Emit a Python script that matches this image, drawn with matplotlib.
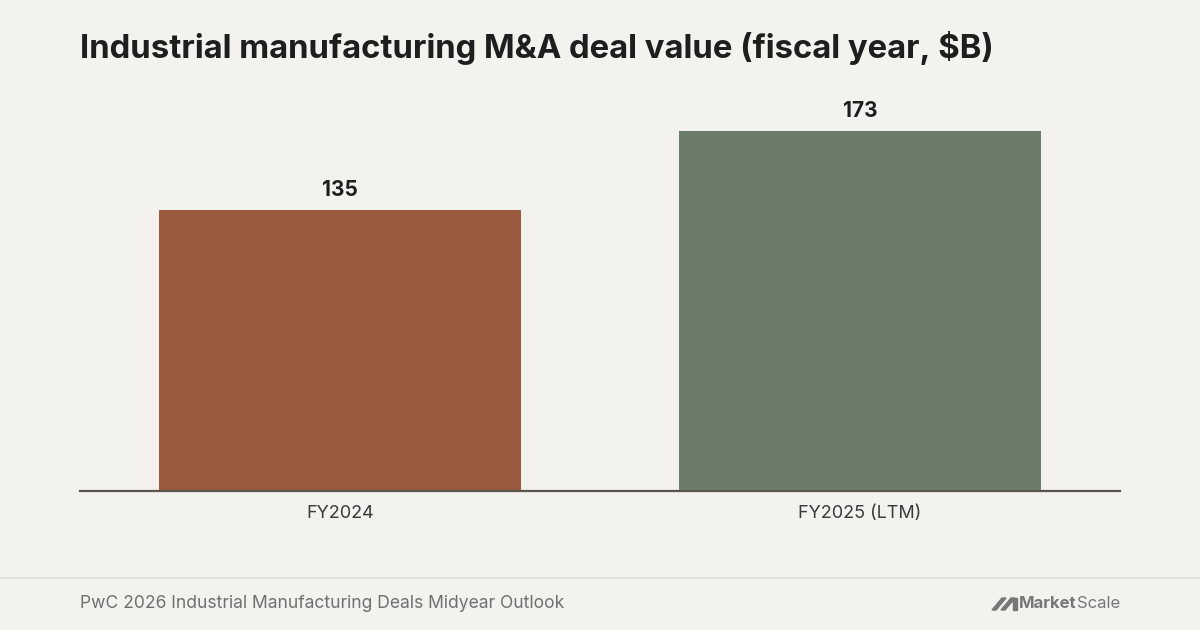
import matplotlib
matplotlib.use("Agg")
import matplotlib.pyplot as plt
from matplotlib.patches import Polygon
from matplotlib.lines import Line2D

categories = ["FY2024", "FY2025 (LTM)"]
values = [135, 173]
colors = ["#9a5a3e", "#6b7c6a"]
title = "Industrial manufacturing M&A deal value (fiscal year, $B)"
source = "PwC 2026 Industrial Manufacturing Deals Midyear Outlook"

BG = "#f4f2ee"
W, H = 1200, 630
fig = plt.figure(figsize=(12, 6.3), dpi=100, facecolor=BG)
plt.rcParams['font.family'] = ['Inter', 'DejaVu Sans']

ax = fig.add_axes([80 / W, (H - 491) / H, 1040 / W, (491 - 100) / H])
ax.set_facecolor(BG)
x = list(range(len(categories)))
ax.bar(x, values, width=0.698, color=colors, zorder=2)
ax.set_xlim(-0.5, len(categories) - 0.5)
ax.set_ylim(0, 391 / 2.08)
for xi, v in zip(x, values):
    ax.annotate(f"{v}", (xi, v), xytext=(0, 7), textcoords="offset points",
                ha="center", va="bottom", fontsize=15, fontweight="bold",
                color="#1e1e1e")
for s in ["top", "right", "left"]:
    ax.spines[s].set_visible(False)
ax.spines["bottom"].set_color("#5a554e")
ax.spines["bottom"].set_linewidth(1.6)
ax.spines["bottom"].set_zorder(3)
ax.set_yticks([])
ax.set_xticks(x)
ax.set_xticklabels(categories, fontsize=13, color="#3a3a3a")
ax.tick_params(axis="x", length=0, pad=10)

fig.text(80 / W, 1 - 48 / H, title, fontsize=23.7, fontweight="bold",
         color="#1e1e1e", ha="left", va="center")

fig.add_artist(Line2D([0, 1], [1 - 578 / H, 1 - 578 / H], color="#e4e1dc",
                      linewidth=1.5, transform=fig.transFigure))
fig.text(80 / W, 1 - 603 / H, source, fontsize=12.6, color="#707070",
         ha="left", va="center")

# logo
lg = "#777777"
def px(xp, yp):
    return (xp / W, 1 - yp / H)
for off in (0, 9):
    fig.add_artist(Polygon([px(992 + off, 610), px(1002 + off, 598), px(1006 + off, 598),
                            px(996 + off, 610)], closed=True, color=lg,
                           transform=fig.transFigure))
fig.add_artist(Polygon([px(1011, 598), px(1017, 598), px(1017, 610), px(1013, 610),
                        px(1013, 602)], closed=True, color=lg, transform=fig.transFigure))
t1 = fig.text(1019 / W, 1 - 604 / H, "Market", fontsize=12, fontweight="bold",
              color=lg, ha="left", va="center")
fig.canvas.draw()
bb = t1.get_window_extent()
fig.text(bb.x1 / W, 1 - 604 / H, "Scale", fontsize=12, color=lg,
         ha="left", va="center")

fig.savefig("out.png", dpi=100, facecolor=BG)
